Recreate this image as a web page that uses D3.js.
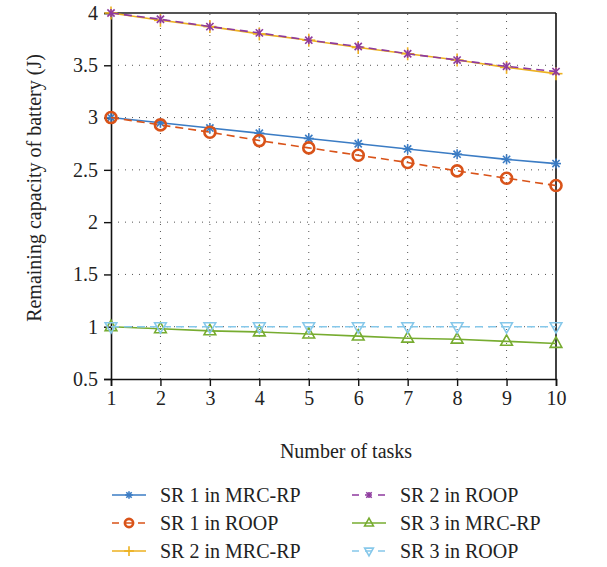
<!DOCTYPE html>
<html>
<head>
<meta charset="utf-8">
<script src="https://cdn.jsdelivr.net/npm/d3@7"></script>
<style>
  body { margin: 0; background: #fff; }
  text { font-family: "Liberation Serif", "DejaVu Serif", serif; fill: #222; }
</style>
</head>
<body>
<div id="chart"></div>
<script>
// data
const tasks = [1, 2, 3, 4, 5, 6, 7, 8, 9, 10];
const sr1Mrc = [3.0, 2.95, 2.90, 2.85, 2.80, 2.75, 2.70, 2.65, 2.60, 2.56];
const sr1Roop = [3.0, 2.93, 2.86, 2.78, 2.71, 2.64, 2.57, 2.49, 2.42, 2.35];
const sr2Mrc = [4.0, 3.93, 3.87, 3.80, 3.74, 3.67, 3.61, 3.55, 3.48, 3.42];
const sr2Roop = [4.0, 3.94, 3.87, 3.81, 3.74, 3.68, 3.61, 3.55, 3.49, 3.44];
const sr3Mrc = [1.0, 0.98, 0.96, 0.95, 0.93, 0.91, 0.89, 0.88, 0.86, 0.84];
const sr3Roop = [1.0, 1.0, 1.0, 1.0, 1.0, 1.0, 1.0, 1.0, 1.0, 1.0];
const yTicks = [0.5, 1, 1.5, 2, 2.5, 3, 3.5, 4];

const series = [
  { name: 'SR 1 in MRC-RP', vals: sr1Mrc, color: '#3b7cc4', dash: null, mark: 'asterisk' },
  { name: 'SR 1 in ROOP', vals: sr1Roop, color: '#d95319', dash: '8,5', mark: 'circle' },
  { name: 'SR 2 in MRC-RP', vals: sr2Mrc, color: '#edb120', dash: null, mark: 'plus' },
  { name: 'SR 2 in ROOP', vals: sr2Roop, color: '#8e3a9e', dash: '8,5', mark: 'star' },
  { name: 'SR 3 in MRC-RP', vals: sr3Mrc, color: '#77ac30', dash: null, mark: 'tri' },
  { name: 'SR 3 in ROOP', vals: sr3Roop, color: '#86c8ea', dash: '8,5', mark: 'trid' }
];

const W = 607, H = 567;
const m = { left: 111, right: 51, top: 13, bottom: 188 };

const svg = d3.select('#chart').append('svg')
  .attr('width', W)
  .attr('height', H);

const x = d3.scaleLinear().domain([1, 10]).range([m.left, W - m.right]);
const y = d3.scaleLinear().domain([0.5, 4]).range([H - m.bottom, m.top]);

// grid
const grid = svg.append('g').attr('stroke', '#555').attr('stroke-width', 1)
  .attr('stroke-dasharray', '1,6');
grid.selectAll('.gx').data(tasks.slice(1, -1)).join('line')
  .attr('x1', d => x(d)).attr('x2', d => x(d))
  .attr('y1', y(0.5)).attr('y2', y(4));
grid.selectAll('.gy').data(yTicks.slice(1, -1)).join('line')
  .attr('x1', x(1)).attr('x2', x(10))
  .attr('y1', d => y(d)).attr('y2', d => y(d));

// axes
const xAxis = svg.append('g')
  .attr('transform', `translate(0,${y(0.5)})`)
  .call(d3.axisBottom(x).tickValues(tasks).tickSize(7).tickPadding(5).tickFormat(d3.format('d')));
const yAxis = svg.append('g')
  .attr('transform', `translate(${x(1)},0)`)
  .call(d3.axisLeft(y).tickValues(yTicks).tickSize(7).tickPadding(6).tickFormat(d => d));
[xAxis, yAxis].forEach(a => {
  a.attr('font-size', null);
  a.select('.domain').attr('stroke', '#111').attr('stroke-width', 1.6);
  a.selectAll('.tick line').attr('stroke', '#111').attr('stroke-width', 1.4);
  a.selectAll('.tick text').style('font-size', '20px').attr('fill', '#222');
});

// box top/right
svg.append('line').attr('x1', x(1)).attr('x2', x(10)).attr('y1', y(4)).attr('y2', y(4))
  .attr('stroke', '#555').attr('stroke-width', 2);
svg.append('line').attr('x1', x(10)).attr('x2', x(10)).attr('y1', y(4)).attr('y2', y(0.5))
  .attr('stroke', '#111').attr('stroke-width', 1.6);

// marker drawing
function drawMark(g, type, color, cx, cy, k = 1) {
  const s = 5 * k;
  if (type === 'circle') {
    g.append('circle').attr('cx', cx).attr('cy', cy).attr('r', 5.5 * k)
      .attr('fill', 'none').attr('stroke', color).attr('stroke-width', 2.6);
  } else if (type === 'asterisk' || type === 'star' || type === 'plus') {
    const segs = [[0, -s, 0, s], [-s, 0, s, 0], [-s * 0.72, -s * 0.72, s * 0.72, s * 0.72], [-s * 0.72, s * 0.72, s * 0.72, -s * 0.72]];
    let use = segs;
    if (type === 'plus') use = segs.slice(0, 2).map(a => a.map(v => v * 1.3));
    if (type === 'star') use = [segs[0].map(v => v * 0.8), segs[2], segs[3]];
    use.forEach(a => g.append('line')
      .attr('x1', cx + a[0]).attr('y1', cy + a[1]).attr('x2', cx + a[2]).attr('y2', cy + a[3])
      .attr('stroke', color).attr('stroke-width', 1.6));
  } else {
    const dir = type === 'tri' ? 1 : -1;
    const r = 6.5 * k;
    const pts = [[cx, cy - dir * r], [cx - r * 0.9, cy + dir * r * 0.6], [cx + r * 0.9, cy + dir * r * 0.6]];
    g.append('path').attr('d', 'M' + pts.join('L') + 'Z')
      .attr('fill', 'none').attr('stroke', color).attr('stroke-width', 1.6);
  }
}

// lines
const line = d3.line().x((d, i) => x(tasks[i])).y(d => y(d));
series.forEach(s => {
  const g = svg.append('g');
  g.append('path').datum(s.vals).attr('d', line)
    .attr('fill', 'none').attr('stroke', s.color).attr('stroke-width', 1.6)
    .attr('stroke-dasharray', s.dash);
  s.vals.forEach((v, i) => drawMark(g, s.mark, s.color, x(tasks[i]), y(v)));
});

// axis labels
svg.append('text').attr('x', 346).attr('y', 458).attr('text-anchor', 'middle')
  .style('font-size', '20px').text('Number of tasks');
svg.append('text').attr('transform', `translate(41,188) rotate(-90)`)
  .attr('text-anchor', 'middle').style('font-size', '20px')
  .text('Remaining capacity of battery (J)');

// legend
const legend = svg.append('g');
series.forEach((s, i) => {
  const col = Math.floor(i / 3), row = i % 3;
  const lx = 112 + col * 240, ly = 495 + row * 28;
  const g = legend.append('g');
  g.append('line').attr('x1', lx).attr('x2', lx + 34).attr('y1', ly).attr('y2', ly)
    .attr('stroke', s.color).attr('stroke-width', 1.6)
    .attr('stroke-dasharray', s.dash ? '7,6' : null);
  drawMark(g, s.mark, s.color, lx + 17, ly, 0.75);
  g.append('text').attr('x', lx + 48).attr('y', ly + 7)
    .style('font-size', '20px').text(s.name);
});
</script>
</body>
</html>
